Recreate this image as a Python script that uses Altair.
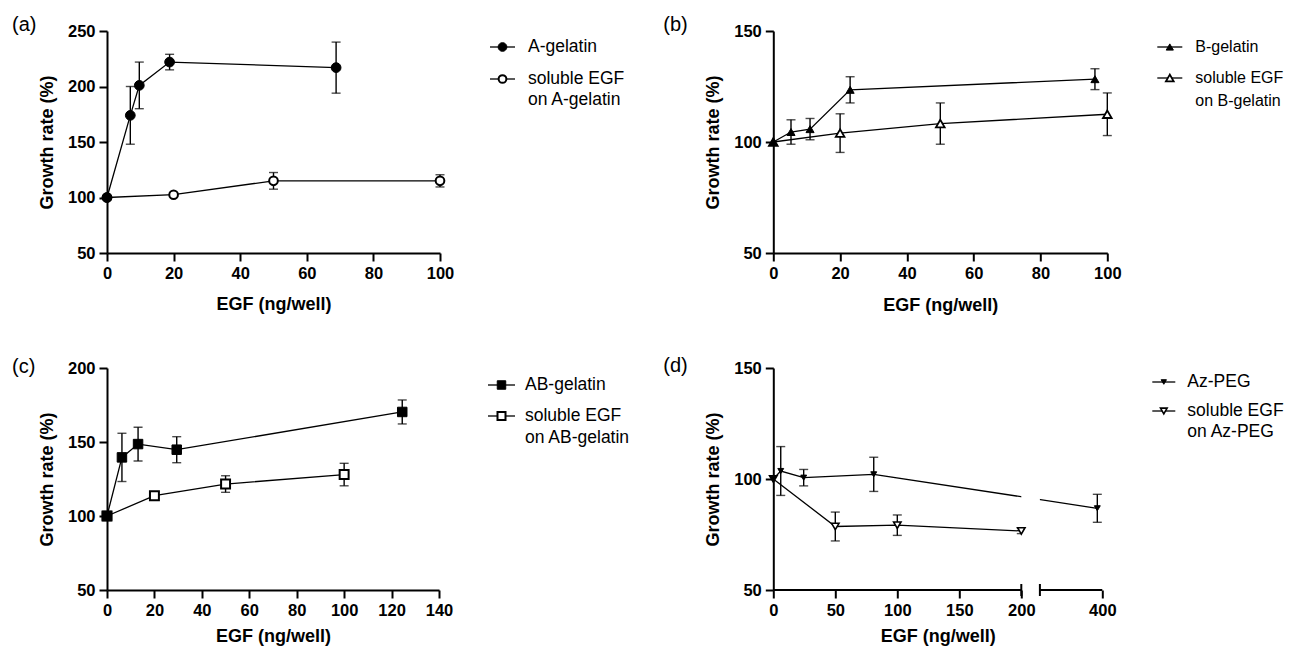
import altair as alt
import pandas as pd

FONT = "Liberation Sans"

# ---------------- data ----------------
# (a)
a_x = [0, 7.0, 9.7, 18.8, 68.8]
a_y = [100, 174, 201, 222, 217]
a_err = [0, 26, 21, 7, 23]
a_sol_x = [0, 20, 50, 100]
a_sol_y = [100, 102.5, 115, 115]
a_sol_err = [0, 1.5, 7.5, 5.5]
a_names = ["A-gelatin", "soluble EGF|on A-gelatin"]

# (b)
b_x = [0, 5.3, 11, 23, 96.3]
b_y = [100, 104.5, 105.8, 123.5, 128.3]
b_err = [0, 5.5, 4.8, 5.9, 4.7]
b_sol_x = [0, 20, 50, 100]
b_sol_y = [100, 104, 108.3, 112.5]
b_sol_err = [0, 8.7, 9.3, 9.6]
b_names = ["B-gelatin", "soluble EGF|on B-gelatin"]

# (c)
c_x = [0, 6.3, 13.1, 29.4, 124.5]
c_y = [100, 139.6, 148.6, 144.8, 170.3]
c_err = [0, 16.3, 11.4, 8.8, 8.1]
c_sol_x = [0, 20, 50, 100]
c_sol_y = [100, 113.7, 121.6, 128]
c_sol_err = [0, 1.8, 5.6, 7.6]
c_names = ["AB-gelatin", "soluble EGF|on AB-gelatin"]

# (d)
d_x = [0, 6, 24.5, 81, 396]
d_y = [100, 103.6, 100.6, 102.1, 86.8]
d_err = [0, 11, 3.7, 7.7, 6.3]
d_sol_x = [0, 50, 100, 200]
d_sol_y = [100, 78.6, 79.2, 76.6]
d_sol_err = [0, 6.5, 4.6, 1.2]
d_names = ["Az-PEG", "soluble EGF|on Az-PEG"]

# axis ticks
a_xticks = [0, 20, 40, 60, 80, 100]
a_yticks = [50, 100, 150, 200, 250]
b_xticks = [0, 20, 40, 60, 80, 100]
b_yticks = [50, 100, 150]
c_xticks = [0, 20, 40, 60, 80, 100, 120, 140]
c_yticks = [50, 100, 150, 200]
d_xticks = [0, 50, 100, 150, 200, 400]
d_yticks = [50, 100, 150]
d_break = [200, 350]  # axis break (ng/well)

H = 222


def frame(xs, ys, errs, name):
    return pd.DataFrame({
        "x": xs, "y": ys, "err": errs,
        "lo": [y - e for y, e in zip(ys, errs)],
        "hi": [y + e for y, e in zip(ys, errs)],
        "series": name,
    })


def one():
    return pd.DataFrame({"k": [0]})


def panel(tag, tagpos, xs_f, ys_f, es_f, xs_o, ys_o, es_o, names, shape,
          fsize, osize, ostroke, xdomain, xrange, xticks, ydomain, yticks,
          width, titlepad, leg, legfont=17.5, broken=None):
    df_f = frame(xs_f, ys_f, es_f, names[0])
    df_o = frame(xs_o, ys_o, es_o, names[1])
    sc = dict(domain=xdomain, nice=False, zero=False)
    if xrange is not None:
        sc["range"] = xrange
    xaxis = alt.Axis(values=xticks, title="EGF (ng/well)", grid=False, format="d",
                     domain=broken is None, domainColor="black", domainWidth=2,
                     tickColor="black", tickWidth=2, tickSize=8,
                     labelFont=FONT, labelFontWeight="bold", labelFontSize=16.5,
                     labelColor="black", labelPadding=4, labelFlush=False,
                     labelOverlap=False, titleFont=FONT, titleFontSize=18,
                     titleFontWeight="bold", titleColor="black", titlePadding=titlepad)
    yaxis = alt.Axis(values=yticks, title="Growth rate (%)", grid=False, format="d",
                     domainColor="black", domainWidth=2,
                     tickColor="black", tickWidth=2, tickSize=8,
                     labelFont=FONT, labelFontWeight="bold", labelFontSize=16.5,
                     labelColor="black", labelPadding=4, labelOverlap=False,
                     titleFont=FONT, titleFontSize=18, titleFontWeight="bold",
                     titleColor="black", titlePadding=11)
    X = alt.X("x:Q", scale=alt.Scale(**sc), axis=xaxis)
    Y = alt.Y("y:Q", scale=alt.Scale(domain=ydomain, nice=False, zero=False), axis=yaxis)
    Xs = alt.X("x:Q")

    both = pd.concat([df_o, df_f], ignore_index=True)
    errs = both[both["err"] > 0]

    layers = []
    layers.append(alt.Chart(both).mark_line(color="black", strokeWidth=1.3).encode(
        x=X, y=Y, detail="series:N", order="x:Q"))
    layers.append(alt.Chart(errs).mark_rule(color="black", strokeWidth=1.4).encode(
        x=Xs, y="lo:Q", y2="hi:Q"))
    layers.append(alt.Chart(errs).mark_tick(color="black", orient="horizontal", size=9,
                                            thickness=1.4).encode(x=Xs, y="lo:Q"))
    layers.append(alt.Chart(errs).mark_tick(color="black", orient="horizontal", size=9,
                                            thickness=1.4).encode(x=Xs, y="hi:Q"))
    if broken is not None:
        gap = pd.DataFrame({"x": [broken[0]], "x2": [broken[1]]})
        layers.append(alt.Chart(gap).mark_rect(color="white").encode(
            x=Xs, x2="x2:Q", y=alt.value(0), y2=alt.value(H - 1)))
        segs = pd.DataFrame({"x": [xdomain[0], broken[1]], "x2": [broken[0], xdomain[-1]]})
        layers.append(alt.Chart(segs).mark_rule(color="black", strokeWidth=2).encode(
            x=Xs, x2="x2:Q", y=alt.value(H)))
        caps = pd.DataFrame({"x": broken})
        layers.append(alt.Chart(caps).mark_rule(color="black", strokeWidth=2).encode(
            x=Xs, y=alt.value(H - 6), y2=alt.value(H + 6)))
    layers.append(alt.Chart(df_o).mark_point(shape=shape, filled=True, fill="white",
                                             stroke="black", strokeWidth=ostroke,
                                             size=osize, opacity=1).encode(x=Xs, y="y:Q"))
    layers.append(alt.Chart(df_f).mark_point(shape=shape, filled=True, fill="black",
                                             stroke="black", strokeWidth=1,
                                             size=fsize, opacity=1).encode(x=Xs, y="y:Q"))

    # legend
    sx0, sx1, tx, ys = leg
    for i, (nm, filled) in enumerate([(names[0], True), (names[1], False)]):
        yy = ys[i][0]
        layers.append(alt.Chart(one()).mark_rule(color="black", strokeWidth=1.3).encode(
            x=alt.value(sx0), x2=alt.value(sx1), y=alt.value(yy)))
        if filled:
            pm = alt.Chart(one()).mark_point(shape=shape, filled=True, fill="black",
                                             stroke="black", strokeWidth=1,
                                             size=fsize * 0.8, opacity=1)
        else:
            pm = alt.Chart(one()).mark_point(shape=shape, filled=True, fill="white",
                                             stroke="black", strokeWidth=ostroke,
                                             size=osize * 0.8, opacity=1)
        layers.append(pm.encode(x=alt.value((sx0 + sx1) / 2), y=alt.value(yy)))
        for line, ly in zip(nm.split("|"), ys[i]):
            layers.append(alt.Chart(one()).mark_text(
                align="left", baseline="middle", font=FONT, fontSize=legfont,
                color="black").encode(x=alt.value(tx), y=alt.value(ly), text=alt.value(line)))

    layers.append(alt.Chart(one()).mark_text(
        align="left", baseline="middle", font=FONT, fontSize=20, color="black").encode(
        x=alt.value(tagpos[0]), y=alt.value(tagpos[1]), text=alt.value(tag)))

    return alt.layer(*layers).properties(width=width, height=H)


pa = panel("(a)", (-95, -6), a_x, a_y, a_err, a_sol_x, a_sol_y, a_sol_err, a_names,
           "circle", 95, 75, 2, [0, 100], None, a_xticks, [50, 250], a_yticks,
           333, 14, (383, 408, 421, [[16], [48, 69]]))
pb = panel("(b)", (-110, -6), b_x, b_y, b_err, b_sol_x, b_sol_y, b_sol_err, b_names,
           "triangle-up", 65, 75, 1.8, [0, 100], None, b_xticks, [50, 150], b_yticks,
           334, 15, (384, 409, 422, [[16], [47, 70]]), legfont=16)
pc = panel("(c)", (-95, -1), c_x, c_y, c_err, c_sol_x, c_sol_y, c_sol_err, c_names,
           "square", 90, 80, 2, [0, 140], None, c_xticks, [50, 200], c_yticks,
           332, 9, (381, 408, 418, [[17], [48, 70]]))
pd_ = panel("(d)", (-110, -2), d_x, d_y, d_err, d_sol_x, d_sol_y, d_sol_err, d_names,
            "triangle-down", 35, 55, 1.6, [0, d_break[0], d_break[1], 400],
            [0, 248, 266.6, 329], d_xticks, [50, 150], d_yticks,
            329, 9, (379, 402, 414, [[14], [43, 64]]), broken=d_break)

chart = alt.concat(pa, pb, pc, pd_, columns=2,
                   spacing=alt.RowColnumber(row=115, column=333.3),
                   bounds="flush").properties(
    padding={"left": 4, "top": 7, "right": 0, "bottom": 0}
).configure_view(strokeWidth=0)

chart.save("out.html", embed_options={"renderer": "svg", "actions": False})
